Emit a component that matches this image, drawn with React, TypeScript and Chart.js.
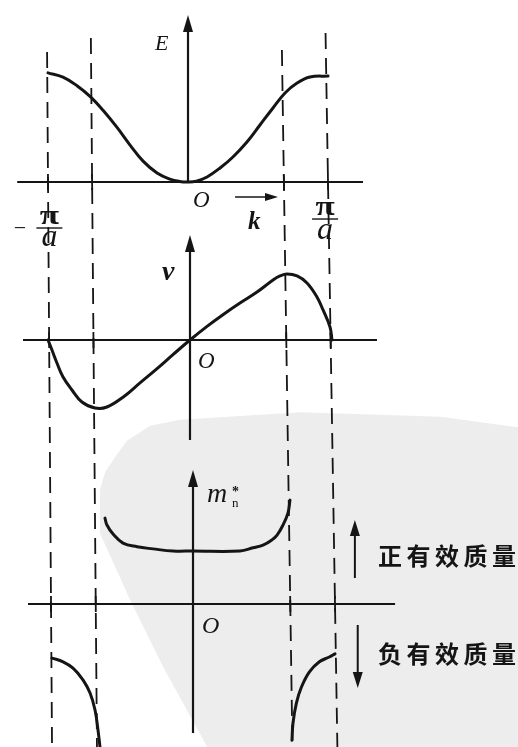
import React, { useEffect, useRef } from 'react';
import { Chart, registerables } from 'chart.js';

Chart.register(...registerables);

// Wave vector k is measured in units of π/a.
const K_EDGE = 1;
const K_INFLECT = 0.685;

// E(k): energy band (arbitrary units)
const energyK = [-1.0, -0.893, -0.793, -0.7, -0.607, -0.507, -0.414, -0.321, -0.221, -0.129, -0.06, 0, 0.06, 0.136, 0.229, 0.321, 0.421, 0.514, 0.607, 0.693, 0.779, 0.871, 1.0];
const energy = [1.02, 0.98, 0.9, 0.8, 0.67, 0.51, 0.345, 0.195, 0.084, 0.026, 0.005, 0, 0.008, 0.047, 0.131, 0.234, 0.374, 0.533, 0.692, 0.832, 0.925, 0.981, 0.99];

// v(k): group velocity
const velocityK = [-1.0, -0.972, -0.937, -0.894, -0.831, -0.761, -0.669, -0.585, -0.472, -0.352, -0.232, -0.12, 0, 0.12, 0.232, 0.352, 0.472, 0.585, 0.634, 0.683, 0.754, 0.824, 0.894, 0.937, 0.986, 1.0];
const velocity = [0, -0.154, -0.354, -0.569, -0.769, -0.954, -1.046, -1.031, -0.88, -0.66, -0.44, -0.225, 0, 0.21, 0.39, 0.569, 0.738, 0.923, 0.985, 1.015, 0.985, 0.877, 0.662, 0.462, 0.2, 0];

// m*(k): effective mass, positive branch near the band bottom
const massUpperK = [-0.62, -0.606, -0.563, -0.493, -0.394, -0.282, -0.141, 0.0, 0.331, 0.423, 0.493, 0.556, 0.592, 0.634, 0.669, 0.683];
const massUpper = [1.62, 1.49, 1.32, 1.15, 1.08, 1.04, 1.0, 1.0, 1.0, 1.06, 1.11, 1.21, 1.3, 1.49, 1.72, 1.96];

// m*(k): negative branches near the zone edges
const massLeftK = [-0.993, -0.915, -0.845, -0.775, -0.725, -0.69, -0.669, -0.655];
const massLeft = [-1.02, -1.09, -1.21, -1.43, -1.68, -2.0, -2.38, -2.7];
const massRightK = [0.697, 0.704, 0.728, 0.763, 0.82, 0.89, 0.96, 1.0];
const massRight = [-2.57, -2.25, -1.87, -1.57, -1.28, -1.09, -1.0, -0.94];

// Where the four zone guides begin (in energy units, upper panel)
const GUIDE_TOPS = [1.215, 1.346, 1.234, 1.393];

const INK = '#151515';
const SERIF = '"Liberation Serif", "DejaVu Serif", serif';
const CJK = '"Noto Sans CJK SC", "Noto Sans", sans-serif';

// Faint seal stamp in the lower right, in fractions of the canvas
const STAMP = [
  [0.218, 0.616], [0.245, 0.59], [0.29, 0.57], [0.347, 0.562], [0.58, 0.552], [0.85, 0.558], [1.0, 0.572],
  [1.0, 1.0], [0.4, 1.0], [0.315, 0.893], [0.251, 0.803], [0.193, 0.714], [0.193, 0.656], [0.203, 0.632],
];

const toPoints = (ks: number[], vs: number[]) => ks.map((k, i) => ({ x: k, y: vs[i] }));

function arrow(ctx: CanvasRenderingContext2D, x1: number, y1: number, x2: number, y2: number, len: number, half: number, width: number) {
  const ang = Math.atan2(y2 - y1, x2 - x1);
  const bx = x2 - Math.cos(ang) * len;
  const by = y2 - Math.sin(ang) * len;
  ctx.save();
  ctx.strokeStyle = INK;
  ctx.fillStyle = INK;
  ctx.lineWidth = width;
  ctx.setLineDash([]);
  ctx.beginPath();
  ctx.moveTo(x1, y1);
  ctx.lineTo(bx + Math.cos(ang) * 2, by + Math.sin(ang) * 2);
  ctx.stroke();
  ctx.beginPath();
  ctx.moveTo(x2, y2);
  ctx.lineTo(bx - Math.sin(ang) * half, by + Math.cos(ang) * half);
  ctx.lineTo(bx + Math.sin(ang) * half, by - Math.cos(ang) * half);
  ctx.closePath();
  ctx.fill();
  ctx.restore();
}

function text(
  ctx: CanvasRenderingContext2D,
  s: string,
  x: number,
  y: number,
  font: string,
  align: CanvasTextAlign = 'left',
  baseline: CanvasTextBaseline = 'alphabetic',
  spacing = '0px',
  stretch = 1,
) {
  ctx.save();
  ctx.fillStyle = INK;
  ctx.font = font;
  ctx.textAlign = align;
  ctx.textBaseline = baseline;
  (ctx as any).letterSpacing = spacing;
  ctx.translate(x, y);
  ctx.scale(stretch, 1);
  ctx.fillText(s, 0, 0);
  ctx.restore();
}

const bandFigure = {
  id: 'bandFigure',
  beforeDraw(chart: any) {
    const { ctx, chartArea: a } = chart;
    const w = a.right - a.left;
    const h = a.bottom - a.top;
    ctx.save();
    ctx.fillStyle = '#ededed';
    ctx.beginPath();
    STAMP.forEach(([fx, fy], i) => {
      const x = a.left + fx * w;
      const y = a.top + fy * h;
      if (i === 0) ctx.moveTo(x, y);
      else ctx.lineTo(x, y);
    });
    ctx.closePath();
    ctx.fill();
    ctx.restore();
  },
  beforeDatasetsDraw(chart: any) {
    const { ctx, chartArea: a, scales: s } = chart;
    const xE = (k: number) => s.xE.getPixelForValue(k);
    const xV = (k: number) => s.xV.getPixelForValue(k);
    const xM = (k: number) => s.xM.getPixelForValue(k);
    const yE = (v: number) => s.yE.getPixelForValue(v);
    const yV = (v: number) => s.yV.getPixelForValue(v);
    const yM = (v: number) => s.yM.getPixelForValue(v);

    const axisE = yE(0);
    const axisV = yV(0);
    const axisM = yM(0);
    // guide line through the upper and lower panel positions of the same k
    const guideX = (k: number, y: number) => {
      const p = xE(k);
      const q = xM(k);
      return p + ((q - p) * (y - axisE)) / (axisM - axisE);
    };

    const guides = [-K_EDGE, -K_INFLECT, K_INFLECT, K_EDGE];
    ctx.save();
    ctx.strokeStyle = INK;
    ctx.lineWidth = 1.8;
    ctx.setLineDash([16, 9]);
    guides.forEach((k, i) => {
      const yTop = yE(GUIDE_TOPS[i]);
      ctx.beginPath();
      ctx.moveTo(guideX(k, yTop), yTop);
      ctx.lineTo(guideX(k, a.bottom), a.bottom);
      ctx.stroke();
    });
    ctx.setLineDash([]);
    [axisE, axisV, axisM].forEach((y) => {
      guides.forEach((k) => {
        ctx.beginPath();
        ctx.moveTo(guideX(k, y - 8), y - 8);
        ctx.lineTo(guideX(k, y + 8), y + 8);
        ctx.stroke();
      });
    });

    // horizontal k axes
    ctx.lineWidth = 2.2;
    ctx.beginPath();
    ctx.moveTo(xE(-1.22), axisE);
    ctx.lineTo(xE(1.25), axisE);
    ctx.moveTo(xV(-1.176), axisV);
    ctx.lineTo(xV(1.317), axisV);
    ctx.moveTo(xM(-1.162), axisM);
    ctx.lineTo(xM(1.423), axisM);
    ctx.stroke();
    ctx.restore();

    // vertical axes with arrowheads
    arrow(ctx, xE(0), axisE + 1, xE(0), yE(1.561), 17, 5, 2.2);
    arrow(ctx, xV(0), yV(-1.538), xV(0), yV(1.615), 17, 5, 2.2);
    arrow(ctx, xM(0), yM(-2.434), xM(0), yM(2.528), 17, 5, 2.2);
  },
  afterDatasetsDraw(chart: any) {
    const { ctx, scales: s } = chart;
    const xE = (k: number) => s.xE.getPixelForValue(k);
    const xV = (k: number) => s.xV.getPixelForValue(k);
    const xM = (k: number) => s.xM.getPixelForValue(k);
    const yE = (v: number) => s.yE.getPixelForValue(v);
    const yV = (v: number) => s.yV.getPixelForValue(v);
    const yM = (v: number) => s.yM.getPixelForValue(v);

    // E(k) panel
    text(ctx, 'E', xE(-0.236), yE(1.234), `italic 22px ${SERIF}`);
    text(ctx, 'O', xE(0.036), yE(-0.234), `italic 23px ${SERIF}`);
    arrow(ctx, xE(0.336), yE(-0.14), xE(0.643), yE(-0.14), 13, 4, 1.7);
    text(ctx, 'k', xE(0.429), yE(-0.44), `bold italic 25px ${SERIF}`);

    const fraction = (cx: number, piY: number, barY: number, aY: number) => {
      text(ctx, 'π', cx, yE(piY), `bold 27px ${SERIF}`, 'center', 'alphabetic', '0px', 1.3);
      ctx.save();
      ctx.strokeStyle = INK;
      ctx.lineWidth = 1.4;
      ctx.beginPath();
      ctx.moveTo(cx - 13, yE(barY));
      ctx.lineTo(cx + 13, yE(barY));
      ctx.stroke();
      ctx.restore();
      text(ctx, 'a', cx, yE(aY), `italic 32px ${SERIF}`, 'center');
    };
    text(ctx, '−', xE(-1.2), yE(-0.439), `22px ${SERIF}`, 'center', 'middle');
    fraction(xE(-0.99), -0.393, -0.43, -0.598);
    fraction(xE(0.979), -0.308, -0.346, -0.533);

    // v(k) panel
    text(ctx, 'v', xV(-0.197), yV(0.923), `bold italic 28px ${SERIF}`);
    text(ctx, 'O', xV(0.056), yV(-0.431), `italic 23px ${SERIF}`);

    // m*(k) panel
    text(ctx, 'm', xM(0.099), yM(1.925), `italic 28px ${SERIF}`);
    text(ctx, '*', xM(0.275), yM(2.1), `bold 14px ${SERIF}`, 'left', 'middle');
    text(ctx, 'n', xM(0.275), yM(1.83), `13px ${SERIF}`);
    text(ctx, 'O', xM(0.063), yM(-0.547), `italic 24px ${SERIF}`);

    arrow(ctx, xM(1.14), yM(0.49), xM(1.14), yM(1.585), 16, 5, 2);
    arrow(ctx, xM(1.16), yM(-0.396), xM(1.16), yM(-1.585), 16, 5, 2);
    text(ctx, '正有效质量', xM(1.303), yM(0.906), `bold 24px ${CJK}`, 'left', 'middle', '4.5px');
    text(ctx, '负有效质量', xM(1.303), yM(-0.943), `bold 24px ${CJK}`, 'left', 'middle', '4.5px');
  },
};

const curve = (data: { x: number; y: number }[], xAxisID: string, yAxisID: string) => ({
  data,
  xAxisID,
  yAxisID,
  showLine: true,
  borderColor: INK,
  backgroundColor: INK,
  borderWidth: 3,
  pointRadius: 0,
  pointHoverRadius: 0,
  fill: false,
  tension: 0.4,
  borderCapStyle: 'round' as const,
  borderJoinStyle: 'round' as const,
});

export default function App() {
  const canvasRef = useRef<HTMLCanvasElement | null>(null);

  useEffect(() => {
    const canvas = canvasRef.current;
    if (!canvas) return;
    const hidden = { type: 'linear' as const, display: false };
    const chart = new Chart(canvas, {
      type: 'scatter',
      data: {
        datasets: [
          curve(toPoints(energyK, energy), 'xE', 'yE'),
          curve(toPoints(velocityK, velocity), 'xV', 'yV'),
          curve(toPoints(massUpperK, massUpper), 'xM', 'yM'),
          curve(toPoints(massLeftK, massLeft), 'xM', 'yM'),
          curve(toPoints(massRightK, massRight), 'xM', 'yM'),
        ],
      },
      options: {
        responsive: false,
        animation: false,
        devicePixelRatio: 1,
        events: [],
        layout: { padding: 0 },
        plugins: { legend: { display: false }, tooltip: { enabled: false }, title: { display: false } },
        scales: {
          xE: { ...hidden, position: 'bottom', min: -1.3429, max: 2.3571 },
          xV: { ...hidden, position: 'bottom', min: -1.338, max: 2.3099 },
          xM: { ...hidden, position: 'bottom', min: -1.3592, max: 2.2887 },
          yE: { ...hidden, position: 'left', min: -5.2804, max: 1.7009 },
          yV: { ...hidden, position: 'left', min: -6.2615, max: 5.2308 },
          yM: { ...hidden, position: 'left', min: -2.698, max: 11.396 },
        },
      },
      plugins: [bandFigure],
    });
    return () => chart.destroy();
  }, []);

  return (
    <div style={{ position: 'fixed', left: 0, top: 0, width: 518, height: 747, background: '#ffffff' }}>
      <canvas ref={canvasRef} width={518} height={747} style={{ display: 'block', width: 518, height: 747 }} />
    </div>
  );
}
